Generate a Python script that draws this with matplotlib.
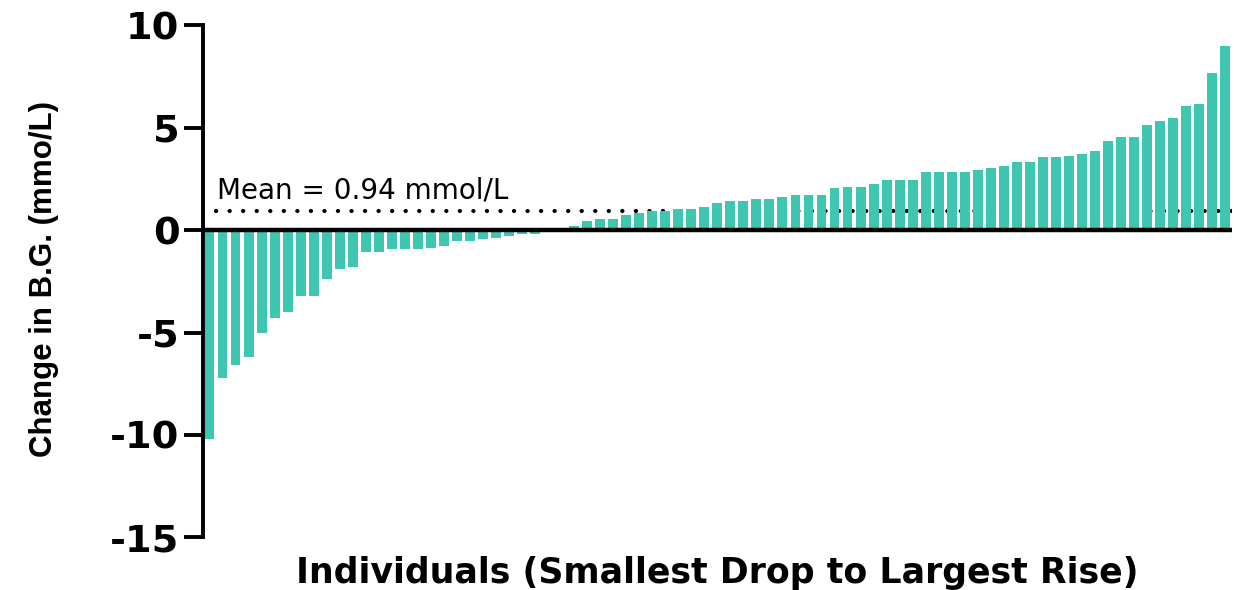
import numpy as np
from matplotlib import pyplot as plt

# change in blood glucose per individual, sorted
drops = [-10.2, -7.2, -6.6, -6.2, -5.0, -4.3, -4.0, -3.2, -3.2, -2.4,
         -1.9, -1.8, -1.06, -1.06, -0.94, -0.94, -0.94, -0.86, -0.76, -0.55,
         -0.55, -0.45, -0.37, -0.28, -0.18, -0.18, -0.08, 0.0]
rises_low = [0.18, 0.43, 0.52, 0.52, 0.72, 0.82, 0.92, 0.92, 1.02, 1.02,
             1.11, 1.31, 1.41, 1.41, 1.51, 1.51, 1.61, 1.70, 1.70, 1.70,
             2.05, 2.10, 2.10, 2.25]
rises_high = [2.42, 2.42, 2.42, 2.81, 2.81, 2.81, 2.81, 2.91, 3.01, 3.11,
              3.30, 3.30, 3.54, 3.54, 3.59, 3.69, 3.84, 4.33, 4.52, 4.52,
              5.11, 5.30, 5.45, 6.03, 6.13, 7.64, 8.96]
values = np.array(drops + rises_low + rises_high)
mean_value = 0.94
yticks = [-15, -10, -5, 0, 5, 10]

bar_color = '#3fc6b1'

fig = plt.figure(figsize=(12.34, 5.90), dpi=100)
ax = fig.add_axes([0.1645, 0.089, 0.8336, 0.8686])

x = np.arange(1, len(values) + 1)
ax.bar(x, values, width=0.76, color=bar_color, linewidth=0, zorder=3)

# mean line behind the bars
ax.plot([1.5, len(values) + 0.5], [mean_value, mean_value], color='black', lw=3.0,
        linestyle=(0, (0.05, 3.2)), dash_capstyle='round', zorder=2)
ax.text(1.6, mean_value + 0.3, 'Mean = %.2f mmol/L' % mean_value, fontsize=20,
        family='DejaVu Sans', ha='left', va='bottom', zorder=4)

# zero line
ax.axhline(0, color='black', lw=3.2, zorder=5)

ax.set_xlim(0.5, len(values) + 0.5)
ax.set_ylim(-15, 10)
ax.set_yticks(yticks)
ax.set_yticklabels([str(t) for t in yticks], fontsize=27.5, fontweight='bold',
                   family='DejaVu Sans')
ax.set_xticks([])

for side in ['top', 'right', 'bottom']:
    ax.spines[side].set_visible(False)
ax.spines['left'].set_linewidth(2.8)
ax.spines['left'].set_zorder(6)
ax.tick_params(axis='y', length=14, width=2.8, pad=3)

ax.set_xlabel('Individuals (Smallest Drop to Largest Rise)', fontsize=25,
              fontweight='bold', family='DejaVu Sans', labelpad=13)
ax.set_ylabel('Change in B.G. (mmo/L)', fontsize=22.5, fontweight='bold',
              family=['Liberation Sans Narrow', 'Liberation Sans', 'DejaVu Sans'])
ax.yaxis.set_label_coords(-0.140, 0.505)

fig.savefig('out.png', dpi=100)
